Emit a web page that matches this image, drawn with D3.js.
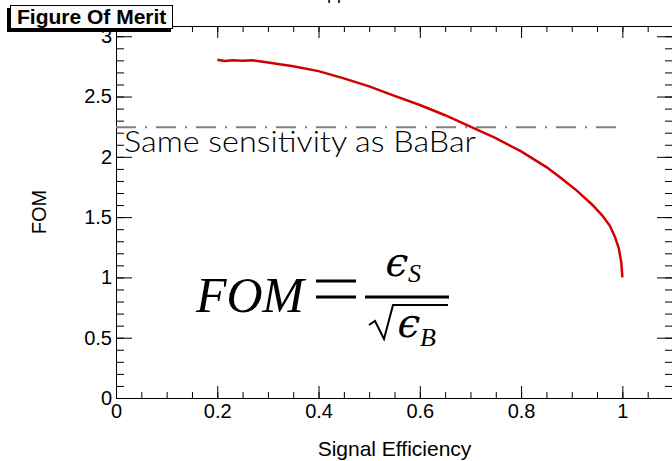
<!DOCTYPE html>
<html>
<head>
<meta charset="utf-8">
<script src="https://cdn.jsdelivr.net/npm/d3@7"></script>
<style>
  body { margin: 0; background: #fff; }
  .axis text { font-family: "Liberation Sans", Arial, sans-serif; font-size: 20px; fill: #000; }
  .axis path, .axis line { stroke: #000; stroke-width: 1; }
</style>
</head>
<body>
<div id="chart"></div>
<script>
// signal efficiency vs figure of merit
var effS = [0.20, 0.215, 0.23, 0.25, 0.27, 0.30, 0.35, 0.40, 0.45, 0.50, 0.55, 0.60, 0.65, 0.69,
            0.75, 0.80, 0.85, 0.88, 0.91, 0.94, 0.96, 0.975, 0.985, 0.993, 0.998, 1.0];
var fom  = [2.805, 2.795, 2.80, 2.797, 2.80, 2.782, 2.752, 2.711, 2.651, 2.584, 2.505, 2.43, 2.345, 2.27,
            2.155, 2.045, 1.915, 1.82, 1.72, 1.605, 1.515, 1.43, 1.34, 1.24, 1.12, 1.0];

var babarLevel = 2.245;

var xTicks = [0, 0.2, 0.4, 0.6, 0.8, 1];
var yTicks = [0, 0.5, 1, 1.5, 2, 2.5, 3];

var svgWidth = 672;
var svgHeight = 461;

var svg = d3.select("#chart")
  .append("svg")
  .attr("width", svgWidth)
  .attr("height", svgHeight);

svg.append("rect")
  .attr("width", svgWidth)
  .attr("height", svgHeight)
  .attr("fill", "#fff");

var x = d3.scaleLinear().domain([0, 1.1]).range([116, 673]);
var y = d3.scaleLinear().domain([0, 3.085]).range([398, 26]);

var xMinor = d3.range(0, 23).map(i => i * 0.05);
var yMinor = d3.range(0, 31).map(i => i * 0.1);

// bottom axis
svg.append("g")
  .attr("class", "axis")
  .attr("transform", `translate(0, ${y(0)})`)
  .call(d3.axisBottom(x).tickValues(xMinor).tickSize(-6).tickSizeOuter(0).tickFormat(""));
svg.append("g")
  .attr("class", "axis")
  .attr("transform", `translate(0, ${y(0)})`)
  .call(d3.axisBottom(x).tickValues(xTicks).tickSize(-12).tickSizeOuter(0).tickPadding(6).tickFormat(d => d));

// top axis, ticks only
svg.append("g")
  .attr("class", "axis")
  .attr("transform", `translate(0, ${y.range()[1]})`)
  .call(d3.axisTop(x).tickValues(xMinor).tickSize(-6).tickSizeOuter(0).tickFormat(""));
svg.append("g")
  .attr("class", "axis")
  .attr("transform", `translate(0, ${y.range()[1]})`)
  .call(d3.axisTop(x).tickValues(xTicks).tickSize(-12).tickSizeOuter(0).tickFormat(""));

// left axis
svg.append("g")
  .attr("class", "axis")
  .attr("transform", `translate(${x(0)}, 0)`)
  .call(d3.axisLeft(y).tickValues(yMinor).tickSize(-8).tickSizeOuter(0).tickFormat(""));
svg.append("g")
  .attr("class", "axis")
  .attr("transform", `translate(${x(0)}, 0)`)
  .call(d3.axisLeft(y).tickValues(yTicks).tickSize(-16).tickSizeOuter(0).tickPadding(4).tickFormat(d => d));

// right axis, ticks only
svg.append("g")
  .attr("class", "axis")
  .attr("transform", `translate(${x.range()[1]}, 0)`)
  .call(d3.axisRight(y).tickValues(yMinor).tickSize(-8).tickSizeOuter(0).tickFormat(""));
svg.append("g")
  .attr("class", "axis")
  .attr("transform", `translate(${x.range()[1]}, 0)`)
  .call(d3.axisRight(y).tickValues(yTicks).tickSize(-16).tickSizeOuter(0).tickFormat(""));

// BaBar reference line
svg.append("line")
  .attr("x1", x(0))
  .attr("x2", x(1))
  .attr("y1", y(babarLevel))
  .attr("y2", y(babarLevel))
  .attr("stroke", "#808080")
  .attr("stroke-width", 2)
  .attr("stroke-dasharray", "20,9,2,9");

svg.append("text")
  .attr("x", 124)
  .attr("y", 152)
  .attr("textLength", 352)
  .attr("lengthAdjust", "spacingAndGlyphs")
  .style("font-family", "Lato, 'Open Sans', sans-serif")
  .style("font-weight", 300)
  .style("font-size", "30px")
  .text("Same sensitivity as BaBar");

// FOM curve
var line = d3.line()
  .x((d, i) => x(effS[i]))
  .y(d => y(d));

svg.append("path")
  .datum(fom)
  .attr("d", line)
  .attr("fill", "none")
  .attr("stroke", "#d00000")
  .attr("stroke-width", 2.5);

// axis titles
svg.append("text")
  .attr("transform", `translate(46, ${(y.range()[0] + y.range()[1]) / 2}) rotate(-90)`)
  .attr("text-anchor", "middle")
  .style("font-family", "Liberation Sans, Arial, sans-serif")
  .style("font-size", "20px")
  .text("FOM");

svg.append("text")
  .attr("x", (x.range()[0] + x.range()[1]) / 2)
  .attr("y", 456)
  .attr("text-anchor", "middle")
  .style("font-family", "Liberation Sans, Arial, sans-serif")
  .style("font-size", "21px")
  .text("Signal Efficiency");

// cut-off top title
svg.append("text")
  .attr("x", 337)
  .attr("y", -1)
  .attr("text-anchor", "middle")
  .style("font-family", "Liberation Sans, Arial, sans-serif")
  .style("font-size", "18px")
  .text("pp");

// title box
svg.append("rect")
  .attr("x", 7).attr("y", 8)
  .attr("width", 164).attr("height", 24)
  .attr("fill", "#000");
svg.append("rect")
  .attr("x", 10.5).attr("y", 5.5)
  .attr("width", 162).attr("height", 23)
  .attr("fill", "#fafafa")
  .attr("stroke", "#000");
svg.append("text")
  .attr("x", 17)
  .attr("y", 24)
  .style("font-family", "Liberation Sans, Arial, sans-serif")
  .style("font-weight", "bold")
  .style("font-size", "21px")
  .text("Figure Of Merit");

// formula
var formula = svg.append("g")
  .style("font-family", "'Liberation Serif', serif")
  .attr("fill", "#000");

formula.append("text")
  .attr("x", 196).attr("y", 312)
  .attr("textLength", 108)
  .style("font-style", "italic")
  .style("font-size", "50px")
  .text("FOM");

formula.append("line")
  .attr("x1", 316).attr("x2", 356).attr("y1", 281).attr("y2", 281)
  .attr("stroke", "#000").attr("stroke-width", 3);
formula.append("line")
  .attr("x1", 316).attr("x2", 356).attr("y1", 297).attr("y2", 297)
  .attr("stroke", "#000").attr("stroke-width", 3);

formula.append("line")
  .attr("x1", 365).attr("x2", 449).attr("y1", 297).attr("y2", 297)
  .attr("stroke", "#000").attr("stroke-width", 3);

formula.append("text")
  .attr("transform", "translate(383, 276) skewX(-14)")
  .style("font-family", "'DejaVu Serif', serif")
  .style("font-size", "40px")
  .text("\u03f5");
formula.append("text")
  .attr("x", 408).attr("y", 282)
  .style("font-style", "italic")
  .style("font-size", "26px")
  .text("S");

formula.append("path")
  .attr("d", "M369,325 L375,321 L384,339 L393,305 L448,305")
  .attr("fill", "none")
  .attr("stroke", "#000")
  .attr("stroke-width", 2);

formula.append("text")
  .attr("transform", "translate(395, 337) skewX(-14)")
  .style("font-family", "'DejaVu Serif', serif")
  .style("font-size", "40px")
  .text("\u03f5");
formula.append("text")
  .attr("x", 420).attr("y", 346)
  .style("font-style", "italic")
  .style("font-size", "26px")
  .text("B");
</script>
</body>
</html>
